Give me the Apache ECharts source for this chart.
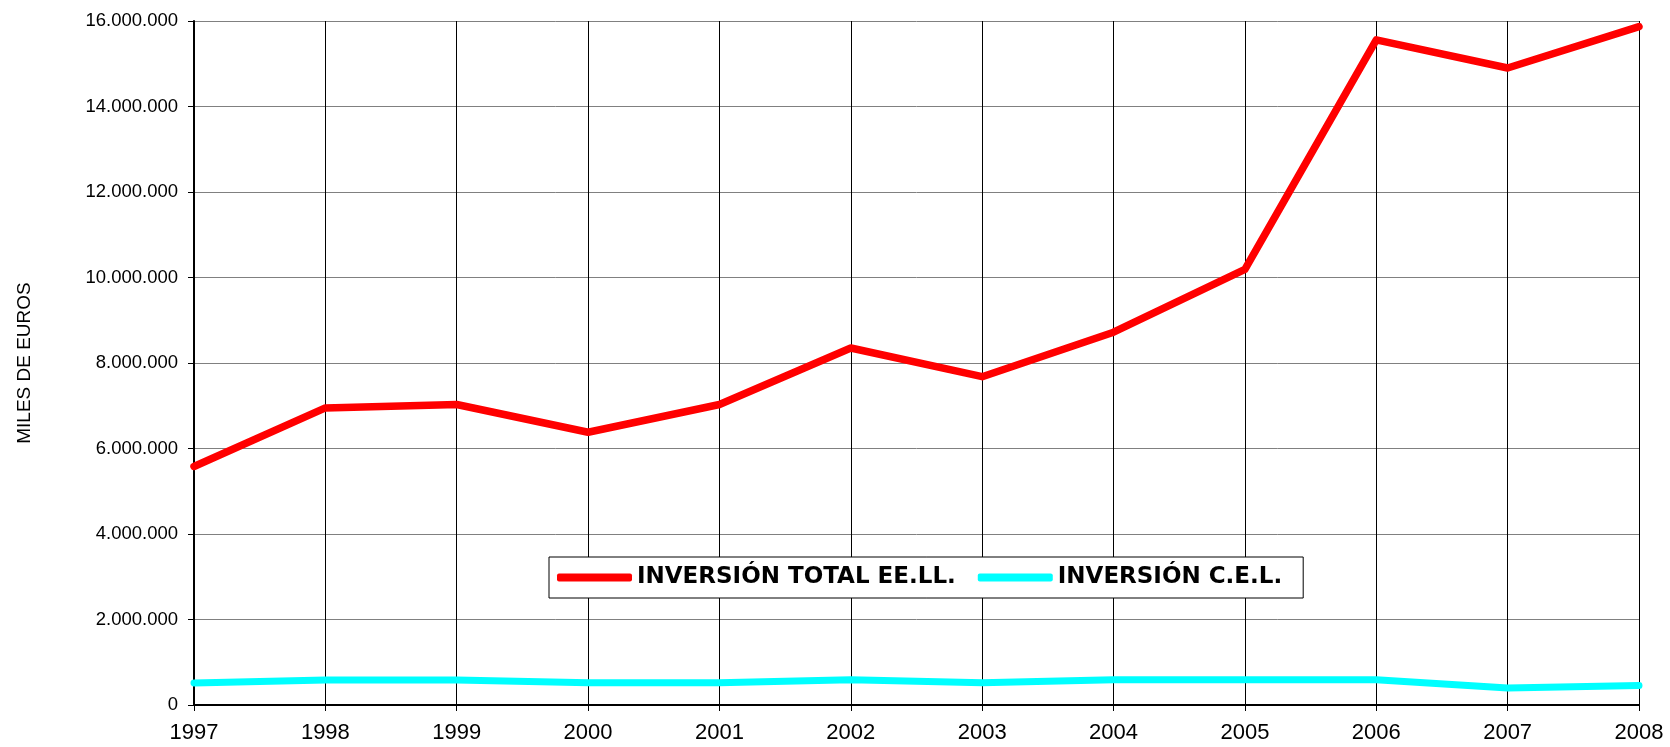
<!DOCTYPE html>
<html>
<head>
<meta charset="utf-8">
<script src="https://cdn.jsdelivr.net/npm/echarts@6/dist/echarts.min.js"></script>
<style>
  html, body { margin: 0; padding: 0; background: #ffffff; }
  #chart { width: 1670px; height: 747px; }
</style>
</head>
<body>
<div id="chart"></div>
<script>
// Years on the category axis
const years = ['1997', '1998', '1999', '2000', '2001', '2002', '2003', '2004', '2005', '2006', '2007', '2008'];

// Total local-entity investment (thousands of euros)
const inversionTotal = [5580000, 6950000, 7030000, 6380000, 7030000, 8350000, 7680000, 8720000, 10190000, 15560000, 14900000, 15870000];

// C.E.L. investment (thousands of euros)
const inversionCEL = [515000, 585000, 585000, 520000, 520000, 590000, 520000, 590000, 590000, 590000, 400000, 455000];

const seriesNames = ['INVERSIÓN TOTAL EE.LL.', 'INVERSIÓN C.E.L.'];

// Spanish thousands separator: 16000000 -> 16.000.000
function fmtMiles(v) {
  return String(v).replace(/\B(?=(\d{3})+(?!\d))/g, '.');
}

const chart = echarts.init(document.getElementById('chart'), null, { renderer: 'canvas' });

chart.setOption({
  backgroundColor: '#ffffff',
  animation: false,
  grid: { left: 194, right: 31, top: 21, bottom: 42, containLabel: false },
  legend: {
    left: 549,
    top: 557,
    orient: 'horizontal',
    padding: [9, 21, 9, 8],
    itemGap: 22,
    itemWidth: 75,
    itemHeight: 8,
    icon: 'roundRect',
    borderColor: '#000000',
    borderWidth: 1,
    backgroundColor: '#ffffff',
    textStyle: {
      fontFamily: 'DejaVu Sans, Verdana, sans-serif',
      fontWeight: 'bold',
      fontSize: 23,
      color: '#000000'
    },
    data: seriesNames
  },
  xAxis: {
    type: 'category',
    data: years,
    boundaryGap: false,
    axisLine: { lineStyle: { color: '#000000', width: 2 } },
    axisTick: { show: true, length: 6, lineStyle: { color: '#000000', width: 1 } },
    axisLabel: {
      color: '#000000',
      fontFamily: 'Liberation Sans, Arial, sans-serif',
      fontSize: 22,
      margin: 17
    },
    splitLine: { show: true, lineStyle: { color: '#000000', width: 1 } }
  },
  yAxis: {
    type: 'value',
    min: 0,
    max: 16000000,
    interval: 2000000,
    name: 'MILES DE EUROS',
    nameLocation: 'middle',
    nameRotate: 90,
    nameGap: 160,
    nameTextStyle: {
      color: '#000000',
      fontFamily: 'Liberation Sans, Arial, sans-serif',
      fontSize: 19
    },
    axisLine: { show: true, lineStyle: { color: '#000000', width: 2 } },
    axisTick: { show: true, length: 6, lineStyle: { color: '#000000', width: 1 } },
    axisLabel: {
      color: '#000000',
      fontFamily: 'Liberation Sans, Arial, sans-serif',
      fontSize: 18.5,
      margin: 16,
      formatter: fmtMiles
    },
    splitLine: { show: true, lineStyle: { color: '#808080', width: 1 } }
  },
  series: [
    {
      name: seriesNames[0],
      type: 'line',
      data: inversionTotal,
      symbol: 'none',
      color: '#ff0000',
      lineStyle: { color: '#ff0000', width: 7.5, cap: 'round', join: 'round' }
    },
    {
      name: seriesNames[1],
      type: 'line',
      data: inversionCEL,
      symbol: 'none',
      color: '#00ffff',
      lineStyle: { color: '#00ffff', width: 7, cap: 'round', join: 'round' }
    }
  ]
});
</script>
</body>
</html>
